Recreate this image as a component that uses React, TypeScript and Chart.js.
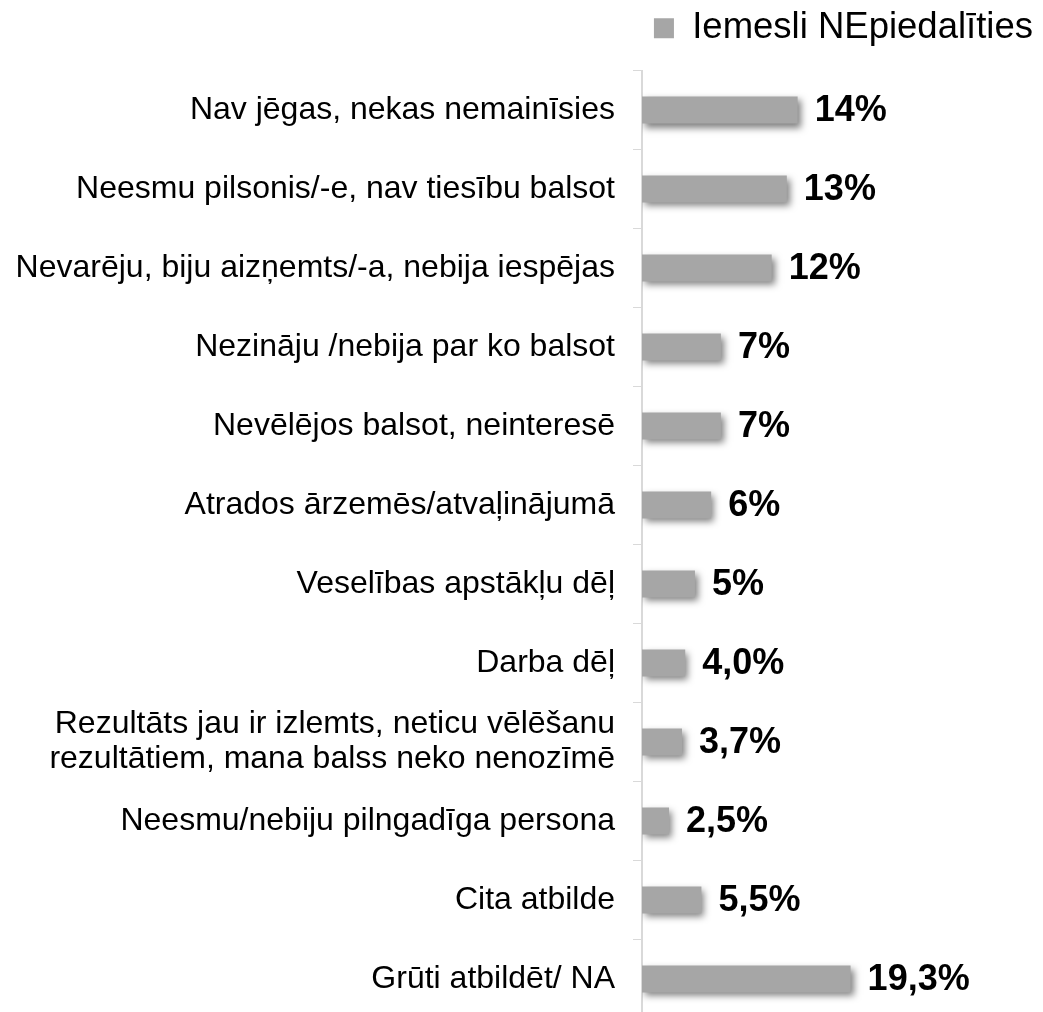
import React, { useEffect, useRef } from "react";
import { Chart, registerables } from "chart.js";

Chart.register(...registerables);

const categories: (string | string[])[] = [
  "Nav jēgas, nekas nemainīsies",
  "Neesmu pilsonis/-e, nav tiesību balsot",
  "Nevarēju, biju aizņemts/-a, nebija iespējas",
  "Nezināju /nebija par ko balsot",
  "Nevēlējos balsot, neinteresē",
  "Atrados ārzemēs/atvaļinājumā",
  "Veselības apstākļu dēļ",
  "Darba dēļ",
  ["Rezultāts jau ir izlemts, neticu vēlēšanu", "rezultātiem, mana balss neko nenozīmē"],
  "Neesmu/nebiju pilngadīga persona",
  "Cita atbilde",
  "Grūti atbildēt/ NA",
];

const values: number[] = [14.4, 13.4, 12.0, 7.3, 7.3, 6.4, 4.9, 4.0, 3.7, 2.5, 5.5, 19.3];

const valueLabels: string[] = ["14%", "13%", "12%", "7%", "7%", "6%", "5%", "4,0%", "3,7%", "2,5%", "5,5%", "19,3%"];

const seriesName = "Iemesli NEpiedalīties";

const FONT = "'Liberation Sans', Arial, sans-serif";
const BAR_COLOR = "#a6a6a6";

const shadowPlugin = {
  id: "barShadow",
  beforeDatasetDraw(chart: any) {
    const ctx = chart.ctx;
    ctx.save();
    ctx.shadowColor = "rgba(0,0,0,0.5)";
    ctx.shadowBlur = 7;
    ctx.shadowOffsetX = 3;
    ctx.shadowOffsetY = 4;
  },
  afterDatasetDraw(chart: any) {
    chart.ctx.restore();
  },
};

const valueLabelPlugin = {
  id: "valueLabels",
  afterDatasetsDraw(chart: any) {
    const ctx = chart.ctx;
    const meta = chart.getDatasetMeta(0);
    ctx.save();
    ctx.font = `bold 36px ${FONT}`;
    ctx.fillStyle = "#000000";
    ctx.textAlign = "left";
    ctx.textBaseline = "middle";
    meta.data.forEach((bar: any, i: number) => {
      ctx.fillText(valueLabels[i], bar.x + 17, bar.y + 1);
    });
    ctx.restore();
  },
};

export default function App() {
  const canvasRef = useRef<HTMLCanvasElement | null>(null);

  useEffect(() => {
    document.documentElement.style.overflow = "hidden";
    document.body.style.overflow = "hidden";
    const canvas = canvasRef.current;
    if (!canvas) return;
    const chart = new Chart(canvas, {
      type: "bar",
      data: {
        labels: categories,
        datasets: [
          {
            label: seriesName,
            data: values,
            backgroundColor: BAR_COLOR,
            borderWidth: 0,
            barPercentage: 0.342,
            categoryPercentage: 1,
          },
        ],
      },
      options: {
        indexAxis: "y",
        animation: false,
        responsive: false,
        maintainAspectRatio: false,
        layout: { padding: { top: 0, right: 0, bottom: 0, left: 0 } },
        plugins: {
          legend: {
            display: true,
            position: "top",
            align: "end",
            labels: {
              boxWidth: 20,
              boxHeight: 20,
              color: "#000000",
              font: { size: 36.5, family: FONT },
              padding: 10,
            },
          },
          tooltip: { enabled: false },
        },
        scales: {
          x: {
            position: "top",
            min: 0,
            max: 37.1,
            display: true,
            grid: { display: false },
            border: { display: false },
            ticks: { display: false },
            afterFit: (s: any) => {
              s.height = 14;
            },
          },
          y: {
            grid: {
              display: true,
              drawOnChartArea: false,
              drawTicks: true,
              tickLength: 9,
              color: "#d9d9d9",
              lineWidth: 1,
              offset: true,
            },
            border: { display: true, color: "#d9d9d9", width: 2 },
            ticks: {
              color: "#000000",
              padding: 18,
              font: { size: 32, family: FONT, lineHeight: 1.1 },
            },
            afterFit: (s: any) => {
              s.width = 642;
            },
          },
        },
      },
      plugins: [shadowPlugin, valueLabelPlugin],
    });
    return () => chart.destroy();
  }, []);

  return (
    <div style={{ position: "absolute", left: 0, top: 0, width: 1043, height: 1054 }}>
      <canvas ref={canvasRef} width={1043} height={1054} style={{ display: "block", width: 1043, height: 1054 }} />
    </div>
  );
}
